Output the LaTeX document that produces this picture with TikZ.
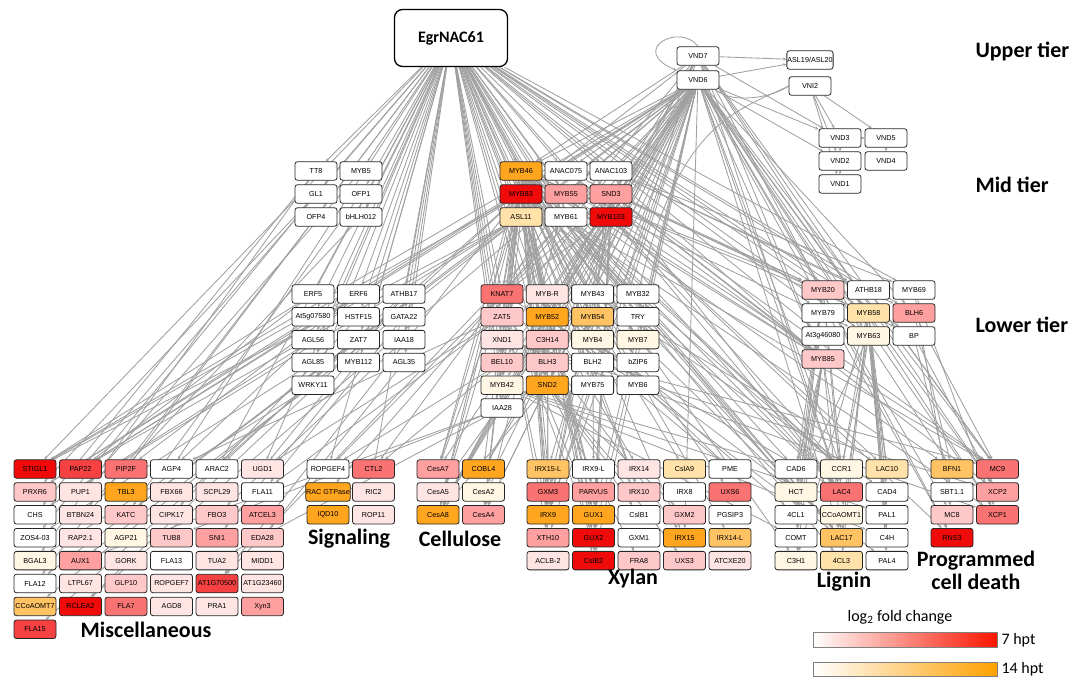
\documentclass[tikz,border=0pt]{standalone}
\usepackage{fontspec}
\newfontfamily\genefont{Liberation Sans}
\newfontfamily\labfont{Carlito}
\usetikzlibrary{arrows.meta}
\pgfdeclarelayer{bg}
\pgfsetlayers{bg,main}

\definecolor{r1}{RGB}{255,228,228}
\definecolor{r2}{RGB}{255,200,200}
\definecolor{r3}{RGB}{255,160,160}
\definecolor{r4}{RGB}{250,115,115}
\definecolor{r5}{RGB}{245,65,65}
\definecolor{r6}{RGB}{240,10,10}
\definecolor{o1}{RGB}{255,246,228}
\definecolor{o2}{RGB}{255,226,170}
\definecolor{o3}{RGB}{255,195,100}
\definecolor{o4}{RGB}{255,165,30}
\definecolor{edgegray}{RGB}{160,160,160}
\definecolor{legred}{RGB}{250,20,0}
\definecolor{legorange}{RGB}{255,160,0}

\tikzset{
  gene/.style={draw=black!85, rounded corners=2.5pt, line width=0.8pt,
    minimum width=42pt, minimum height=18.5pt, inner xsep=0.5pt, inner ysep=0pt,
    font=\genefont\fontsize{7.2}{8}\selectfont},
  edge/.style={draw=edgegray, line width=0.85pt, -{Stealth[length=3.5pt,width=3pt]}},
  tierlabel/.style={font=\labfont\bfseries\fontsize{22}{24}\selectfont, anchor=west},
  grouplabel/.style={font=\labfont\bfseries\fontsize{22}{26}\selectfont, align=center}
}

\begin{document}
\begin{tikzpicture}[x=1pt,y=-1pt]
\useasboundingbox (0,0) rectangle (1085,680);

% upper tier
\node[draw, rounded corners=8pt, line width=1.3pt, minimum width=113pt, minimum height=57pt,
  font=\labfont\bfseries\fontsize{16}{18}\selectfont] (egr) at (451,38) {EgrNAC61};
\node[gene,fill=white] (vnd7) at (698,56) {VND7};
\node[gene,fill=white] (vnd6) at (698,80) {VND6};
\node[gene,fill=white,minimum width=43pt] (asl) at (810,60) {ASL19/ASL20};
\node[gene,fill=white] (vni2) at (810,86) {VNI2};
\node[gene,fill=white] (vnd3) at (840,138) {VND3};
\node[gene,fill=white] (vnd5) at (886,138) {VND5};
\node[gene,fill=white] (vnd2) at (840,161) {VND2};
\node[gene,fill=white] (vnd4) at (886,161) {VND4};
\node[gene,fill=white] (vnd1) at (840,184) {VND1};

% mid tier
\foreach \n/\t/\c [count=\i from 0] in {tt8/TT8/white, myb5/MYB5/white, gl1/GL1/white,
    ofp1/OFP1/white, ofp4/OFP4/white, bhlh012/bHLH012/white}
  \node[gene,fill=\c] (\n) at ({316+45*mod(\i,2)},{171+23*floor(\i/2)}) {\t};
\foreach \n/\t/\c [count=\i from 0] in {myb46/MYB46/o4, anac075/ANAC075/white, anac103/ANAC103/white,
    myb83/MYB83/r6, myb55/MYB55/r3, snd3/SND3/r3, asl11/ASL11/o2, myb61/MYB61/white, myb103/MYB103/r6}
  \node[gene,fill=\c] (\n) at ({521+45*mod(\i,3)},{171+23*floor(\i/3)}) {\t};

% lower tier
\foreach \n/\t/\c [count=\i from 0] in {erf5/ERF5/white, erf6/ERF6/white, athb17/ATHB17/white,
    at5g07580/At5g07580/white, hstf15/HSTF15/white, gata22/GATA22/white,
    agl56/AGL56/white, zat7/ZAT7/white, iaa18/IAA18/white,
    agl85/AGL85/white, myb112/MYB112/white, agl35/AGL35/white, wrky11/WRKY11/white}
  \node[gene,fill=\c] (\n) at ({313+45.5*mod(\i,3)},{294+22.8*floor(\i/3)}) {\t};
\foreach \n/\t/\c [count=\i from 0] in {knat7/KNAT7/r4, mybr/MYB-R/r1, myb43/MYB43/white, myb32/MYB32/white,
    zat5/ZAT5/r2, myb52/MYB52/o4, myb54/MYB54/o3, try/TRY/white,
    xnd1/XND1/r1, c3h14/C3H14/r2, myb4/MYB4/o1, myb7/MYB7/o1,
    bel10/BEL10/r2, blh3/BLH3/r2, blh2/BLH2/white, bzip6/bZIP6/white,
    myb42/MYB42/o1, snd2/SND2/o4, myb75/MYB75/white, myb6/MYB6/white, iaa28/IAA28/white}
  \node[gene,fill=\c] (\n) at ({502+45.3*mod(\i,4)},{294+22.8*floor(\i/4)}) {\t};
\foreach \n/\t/\c [count=\i from 0] in {myb20/MYB20/r2, athb18/ATHB18/white, myb69/MYB69/white,
    myb79/MYB79/white, myb58/MYB58/o2, blh6/BLH6/r3,
    at3g46080/At3g46080/white, myb63/MYB63/o1, bp/BP/white, myb85/MYB85/r2}
  \node[gene,fill=\c] (\n) at ({823+45.5*mod(\i,3)},{290+23*floor(\i/3)}) {\t};

% target genes
\foreach \n/\t/\c [count=\i from 0] in {stigl1/STIGL1/r6, pap22/PAP22/r5, pip2f/PIP2F/r4, agp4/AGP4/white, arac2/ARAC2/white, ugd1/UGD1/r1,
    prxr6/PRXR6/r2, pup1/PUP1/r1, tbl3/TBL3/o4, fbx66/FBX66/r1, scpl29/SCPL29/r1, fla11/FLA11/white,
    chs/CHS/white, btbn24/BTBN24/r1, katc/KATC/r2, cipk17/CIPK17/r1, fbo3/FBO3/r2, atcel3/ATCEL3/r3,
    zos403/ZOS4-03/white, rap21/RAP2.1/r1, agp21/AGP21/o1, tub8/TUB8/r2, sni1/SNI1/r3, eda28/EDA28/r2,
    bgal3/BGAL3/o1, aux1/AUX1/r3, gork/GORK/r1, fla13/FLA13/white, tua2/TUA2/r1, midd1/MIDD1/r1,
    fla12/FLA12/white, ltpl67/LTPL67/r1, glp10/GLP10/r2, ropgef7/ROPGEF7/r1, at1g70500/AT1G70500/r5, at1g23460/AT1G23460/r1,
    ccoaomt7/CCoAOMT7/o3, rclea2/RCLEA2/r6, fla7/FLA7/r4, agd8/AGD8/r1, pra1/PRA1/r1, xyn3/Xyn3/r3,
    fla15/FLA15/r5}
  \node[gene,fill=\c] (\n) at ({35+45.5*mod(\i,6)},{469+22.9*floor(\i/6)}) {\t};
\foreach \n/\t/\c [count=\i from 0] in {ropgef4/ROPGEF4/white, ctl2/CTL2/r4, rac/RAC GTPase/o4, ric2/RIC2/r1,
    iqd10/IQD10/o4, rop11/ROP11/r1}
  \node[gene,fill=\c] (\n) at ({328+45.5*mod(\i,2)},{469+22.9*floor(\i/2)}) {\t};
\foreach \n/\t/\c [count=\i from 0] in {cesa7/CesA7/r3, cobl4/COBL4/o4, cesa5/CesA5/r1, cesa2/CesA2/o1,
    cesa8/CesA8/o4, cesa4/CesA4/r3}
  \node[gene,fill=\c] (\n) at ({438+45.5*mod(\i,2)},{469+22.9*floor(\i/2)}) {\t};
\foreach \n/\t/\c [count=\i from 0] in {irx15l/IRX15-L/o3, irx9l/IRX9-L/white, irx14/IRX14/r1, csla9/CslA9/o2, pme/PME/white,
    gxm3/GXM3/r4, parvus/PARVUS/r3, irx10/IRX10/r2, irx8/IRX8/white, uxs6/UXS6/r4,
    irx9/IRX9/o4, gux1/GUX1/o4, cslb1/CslB1/white, gxm2/GXM2/r2, pgsip3/PGSIP3/white,
    xth10/XTH10/r3, gux2/GUX2/r6, gxm1/GXM1/white, irx15/IRX15/o4, irx14l/IRX14-L/o3,
    aclb2/ACLB-2/r1, cslb2/CslB2/r6, fra8/FRA8/r2, uxs3/UXS3/r2, atcxe20/ATCXE20/r1}
  \node[gene,fill=\c] (\n) at ({548+45.5*mod(\i,5)},{469+22.9*floor(\i/5)}) {\t};
\foreach \n/\t/\c [count=\i from 0] in {cad6/CAD6/white, ccr1/CCR1/o1, lac10/LAC10/o2,
    hct/HCT/o1, lac4/LAC4/r4, cad4/CAD4/white,
    fourcl1/4CL1/white, ccoaomt1/CCoAOMT1/o1, pal1/PAL1/white,
    comt/COMT/white, lac17/LAC17/o3, c4h/C4H/white,
    c3h1/C3H1/o1, fourcl3/4CL3/o2, pal4/PAL4/white}
  \node[gene,fill=\c] (\n) at ({796+45.5*mod(\i,3)},{469+22.9*floor(\i/3)}) {\t};
\foreach \n/\t/\c [count=\i from 0] in {bfn1/BFN1/o3, mc9/MC9/r4, sbt11/SBT1.1/white, xcp2/XCP2/r3,
    mc8/MC8/r2, xcp1/XCP1/r4, rns3/RNS3/r6}
  \node[gene,fill=\c] (\n) at ({952+45.5*mod(\i,2)},{469+22.9*floor(\i/2)}) {\t};

% labels
\node[tierlabel] (upper) at (972,51) {Upper tier};
\node[tierlabel] (mid) at (972,185) {Mid tier};
\node[tierlabel] (lower) at (972,325) {Lower tier};
\node[grouplabel] (misc) at (146,630) {Miscellaneous};
\node[grouplabel] (sig) at (349,539) {Signaling};
\node[grouplabel] (cell) at (460,539) {Cellulose};
\node[grouplabel] (xyl) at (633,579) {Xylan};
\node[grouplabel] (lig) at (844,582) {Lignin};
\node[grouplabel] (pcd) at (976,570) {Programmed\\[-3pt]cell death};

% legend
\node[font=\labfont\fontsize{16}{18}\selectfont] (lfc) at (900,617) {log\textsubscript{2} fold change};
\shade[left color=white, right color=legred] (813,632) rectangle (997,647);
\draw[gray, line width=0.6pt] (813,632) rectangle (997,647);
\shade[left color=white, right color=legorange] (813,662) rectangle (997,676);
\draw[gray, line width=0.6pt] (813,662) rectangle (997,676);
\node[anchor=west, font=\labfont\fontsize{16}{18}\selectfont] (h7) at (998,640) {7 hpt};
\node[anchor=west, font=\labfont\fontsize{16}{18}\selectfont] (h14) at (998,669) {14 hpt};

% edges
\begin{pgfonlayer}{bg}
\foreach \s/\tl in {
  egr/{tt8,myb5,gl1,ofp1,ofp4,bhlh012,myb46,anac075,anac103,myb83,myb55,snd3,asl11,myb61,myb103,
    erf5,erf6,athb17,at5g07580,hstf15,gata22,agl56,zat7,iaa18,agl85,myb112,agl35,wrky11,
    knat7,mybr,myb43,myb32,zat5,myb52,myb54,try,xnd1,c3h14,myb4,myb7,bel10,blh3,blh2,bzip6,
    myb42,snd2,myb75,myb6,iaa28,myb20,athb18,myb69,myb79,myb58,blh6,at3g46080,myb63,bp,myb85,
    stigl1,pap22,pip2f,agp4,arac2,ugd1,ropgef4,ctl2},
  vnd6/{myb46,myb83,snd3,myb103,myb55,asl11,anac075,knat7,mybr,myb52,myb54,zat5,xnd1,c3h14,
    bel10,blh3,snd2,myb42,myb4,myb7,myb20,myb58,myb63,myb85,blh6,cesa7,cesa8,cesa4,cobl4,
    irx9,gux1,gux2,irx15,cslb2,xth10,gxm3,lac4,lac17,ccr1,bfn1,mc9,xcp1,xcp2,rns3,mc8,
    at1g70500,stigl1,rclea2,prxr6,katc,pap22,vnd2,vnd3},
  vnd7/{asl,myb46,myb83,snd2,myb52,knat7,xcp1,xcp2,mc9,irx9,cesa8,lac4,rns3,myb103,snd3,myb85,vnd3},
  vni2/{vnd3,vnd5,vnd2,vnd1},
  vnd3/{vnd2,vnd5}, vnd5/{vnd4}, vnd2/{vnd1},
  myb46/{knat7,myb52,myb54,snd2,myb42,myb4,myb7,myb58,myb63,myb20,myb85,cesa7,cesa8,cesa4,
    irx9,gux1,irx15,irx14l,irx10,lac4,lac17,ccr1,fourcl3,c3h1,hct,bfn1,cobl4,irx15l,cslb2,gux2},
  myb83/{knat7,myb52,myb54,zat5,xnd1,snd2,bel10,blh3,cesa7,cesa8,cesa4,irx9,irx10,gux1,gux2,
    xth10,gxm3,parvus,uxs6,lac4,lac17,ccr1,mc9,xcp1,stigl1,pap22,at1g70500,rclea2,fla15},
  snd3/{myb52,myb54,myb20,myb85,knat7,cesa8,irx9,gux2,lac4,mc9,xcp2},
  myb103/{knat7,myb52,snd2,cesa8,irx9,gux1,gxm3,lac4,lac10,ccr1,mc9,rns3,cslb2},
  myb55/{knat7,myb85,lac4,cesa4},
  asl11/{myb52,myb42,pap22,stigl1,chs,fla12,ccoaomt7},
  myb61/{lac17,ccr1,cad6,hct},
  anac075/{myb85,myb20,bp},
  anac103/{myb69,athb18,blh6},
  tt8/{chs,bgal3}, gl1/{zos403,prxr6}, ofp4/{fla12}, bhlh012/{btbn24}, myb5/{pup1}, ofp1/{katc},
  erf5/{stigl1,pap22}, erf6/{pip2f,agp4}, athb17/{arac2,ugd1}, at5g07580/{prxr6},
  hstf15/{cipk17}, gata22/{fla11}, agl56/{chs}, zat7/{katc}, iaa18/{fbo3}, agl85/{zos403},
  myb112/{sni1}, agl35/{eda28}, wrky11/{bgal3,aux1},
  knat7/{cesa7,cesa8,irx9,gux1,gux2,irx15,xth10,lac4,ctl2,ropgef4,rac},
  myb52/{cesa8,irx9,gxm3,parvus,irx14,lac17,pme},
  snd2/{cesa8,cesa4,irx10,gxm2,uxs3,fra8,cslb1},
  zat5/{agp4,ugd1,fla11}, xnd1/{xcp1,xcp2,mc9}, bel10/{ropgef4,ctl2}, blh3/{cobl4,cesa2},
  myb42/{cad6,pal1,c4h,comt}, myb4/{fourcl1,pal4}, myb7/{hct}, myb54/{irx15l,irx9l,csla9},
  myb43/{lac10,cad4}, c3h14/{cesa5}, iaa28/{aux1,tua2,tub8}, mybr/{pme},
  myb20/{cad6,ccr1,hct,fourcl1,comt,lac4},
  myb58/{ccr1,lac10,cad4,pal1,c4h,lac17,fourcl3,pal4,c3h1},
  myb63/{ccr1,lac10,pal1,c4h,hct,ccoaomt1},
  myb85/{cad6,ccr1,hct,comt,fourcl1,c3h1,lac17},
  blh6/{bfn1,mc9}, myb69/{xcp1,mc8}, bp/{xcp2,sbt11}, athb18/{mc9}}
  \foreach \t in \tl \draw[edge] (\s) -- (\t);
\draw[edge] (vnd6) -- (asl);
\draw[edge] (vnd7.north) .. controls (680,22) and (628,50) .. (vnd6.north west);
\draw[edge] (vni2.west) .. controls (765,102) and (725,100) .. (vnd6.south east);
\draw[edge] (vni2.west) .. controls (740,110) and (680,120) .. (myb32);
\end{pgfonlayer}
\end{tikzpicture}
\end{document}
